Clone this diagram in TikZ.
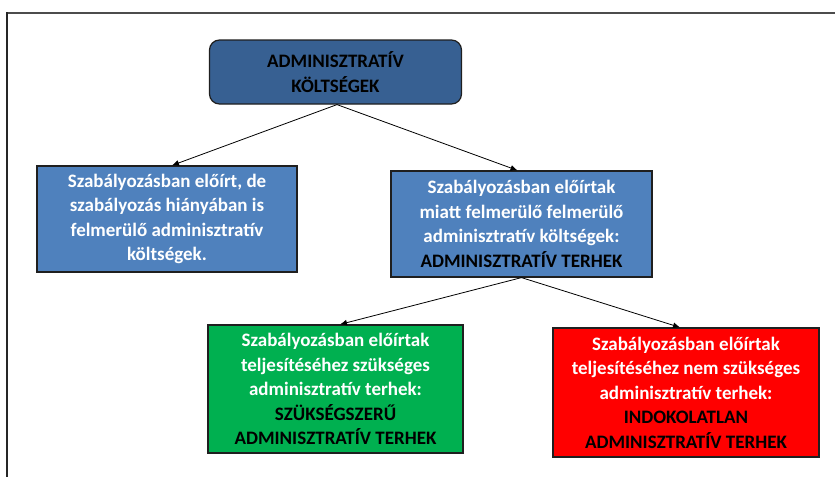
\documentclass[tikz,border=0pt]{standalone}
\usepackage{fontspec}
\setmainfont{Carlito}
\usetikzlibrary{arrows.meta,calc}

\definecolor{darkblue}{HTML}{376092}
\definecolor{midblue}{HTML}{4F81BD}
\definecolor{okgreen}{HTML}{00B050}
\definecolor{badred}{HTML}{FF0000}
\definecolor{edgegray}{HTML}{1F1F1F}

\tikzset{
  box/.style={draw=edgegray, line width=1.2pt, align=center, inner sep=0pt,
    font=\fontsize{19}{24.5}\selectfont\bfseries},
  link/.style={draw=black, line width=0.8pt, -{Latex[length=7pt,width=6pt]}},
}

\begin{document}
\begin{tikzpicture}[x=1pt, y=-1pt]
  \useasboundingbox (0,0) rectangle (835,477);

  % page frame
  \draw[line width=2pt, color=black!70] (7,13) -- (835,13);
  \draw[line width=1.5pt, color=black!85] (7,12) -- (7,477);

  \node[box, fill=darkblue, rounded corners=10pt, minimum width=252pt, minimum height=64pt,
        text=black] (top) at (335.5,72)
    {ADMINISZTRATÍV\\KÖLTSÉGEK};

  \node[box, fill=midblue, minimum width=260pt, minimum height=106pt, text=white] (left) at (167,219)
    {\raisebox{-3pt}{\parbox{250pt}{\centering Szabályozásban előírt, de\\szabályozás hiányában is\\felmerülő adminisztratív\\költségek.}}};

  \node[box, fill=midblue, minimum width=261pt, minimum height=106pt, text=white] (mid) at (521.5,224)
    {\raisebox{-2pt}{\parbox{255pt}{\centering Szabályozásban előírtak\\miatt felmerülő felmerülő\\adminisztratív költségek:\\\textcolor{black}{ADMINISZTRATÍV TERHEK}}}};

  \node[box, fill=okgreen, minimum width=255pt, minimum height=128pt, text=white] (green) at (335.5,389)
    {Szabályozásban előírtak\\teljesítéséhez szükséges\\adminisztratív terhek:\\\textcolor{black}{SZÜKSÉGSZERŰ}\\\textcolor{black}{ADMINISZTRATÍV TERHEK}};

  \node[box, fill=badred, minimum width=266pt, minimum height=129pt, text=white] (red) at (686,392.5)
    {Szabályozásban előírtak\\teljesítéséhez nem szükséges\\adminisztratív terhek:\\\textcolor{black}{INDOKOLATLAN}\\\textcolor{black}{ADMINISZTRATÍV TERHEK}};

  % connectors
  \draw[link] ($(top.south)+(1.5,0)$) -- ($(left.north)+(5,0)$);
  \draw[link] ($(top.south)+(1.5,0)$) -- ($(mid.north)+(-4,0)$);
  \draw[link] (mid.south) -- ($(green.north)+(4.5,0)$);
  \draw[link] (mid.south) -- ($(red.north)+(-6,0)$);
\end{tikzpicture}
\end{document}
